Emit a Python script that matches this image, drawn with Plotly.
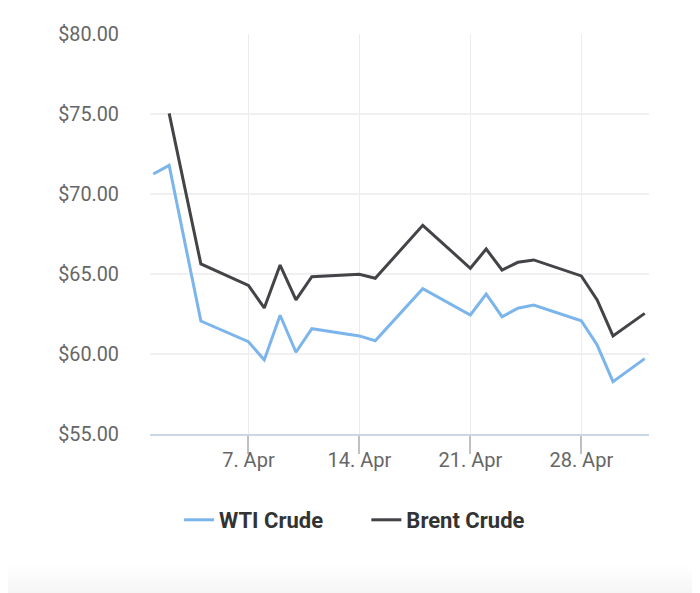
import plotly.graph_objects as go

wti_dates = ["2025-04-01", "2025-04-02", "2025-04-04", "2025-04-07", "2025-04-08", "2025-04-09",
             "2025-04-10", "2025-04-11", "2025-04-14", "2025-04-15", "2025-04-18", "2025-04-21",
             "2025-04-22", "2025-04-23", "2025-04-24", "2025-04-25", "2025-04-28", "2025-04-29",
             "2025-04-30", "2025-05-02"]
wti_values = [71.25, 71.79, 62.06, 60.77, 59.63, 62.42, 60.11, 61.58, 61.13, 60.83, 64.08, 62.44,
              63.75, 62.33, 62.86, 63.06, 62.08, 60.56, 58.27, 59.71]

brent_dates = ["2025-04-02", "2025-04-04", "2025-04-07", "2025-04-08", "2025-04-09",
               "2025-04-10", "2025-04-11", "2025-04-14", "2025-04-15", "2025-04-18", "2025-04-21",
               "2025-04-22", "2025-04-23", "2025-04-24", "2025-04-25", "2025-04-28", "2025-04-29",
               "2025-04-30", "2025-05-02"]
brent_values = [75.04, 65.63, 64.29, 62.88, 65.56, 63.38, 64.83, 64.98, 64.73, 68.04, 65.36,
                66.56, 65.25, 65.73, 65.88, 64.88, 63.38, 61.13, 62.54]

x_tick_vals = ["2025-04-07", "2025-04-14", "2025-04-21", "2025-04-28"]
x_tick_text = ["7. Apr", "14. Apr", "21. Apr", "28. Apr"]
y_tick_vals = [55, 60, 65, 70, 75, 80]
y_tick_text = ["$55.00", "$60.00", "$65.00", "$70.00", "$75.00", "$80.00"]

fig = go.Figure()
fig.add_trace(go.Scatter(x=wti_dates, y=wti_values, mode="lines",
                         name="WTI Crude" + "\u00a0" * 7,
                         line=dict(color="#7cb5ec", width=3)))
fig.add_trace(go.Scatter(x=brent_dates, y=brent_values, mode="lines", name="Brent Crude",
                         line=dict(color="#434348", width=3)))

# very faint shadow at the bottom of the card
n = 10
for i in range(n):
    y0 = -0.33 - (i / n) * 0.07
    fig.add_shape(type="rect", xref="paper", yref="paper",
                  x0=-0.3, x1=1.2, y0=-0.5, y1=y0,
                  fillcolor="rgba(0,0,0,0.004)", line=dict(width=0), layer="below")

fig.update_layout(
    width=700, height=593,
    margin=dict(l=142, r=59, t=26, b=167),
    paper_bgcolor="white", plot_bgcolor="white",
    font=dict(family="Roboto", color="#666666", size=19),
    showlegend=True,
    legend=dict(orientation="h", x=0.41, xanchor="center", y=-0.215, yanchor="middle",
                font=dict(family="Roboto", size=22, color="#333333", weight="bold"),
                itemwidth=30, traceorder="normal"),
    hovermode=False,
)
fig.update_xaxes(
    type="date",
    range=["2025-03-31 19:00", "2025-05-02 06:30"],
    tickmode="array", tickvals=x_tick_vals, ticktext=x_tick_text,
    showgrid=True, gridcolor="#ececec", gridwidth=1,
    showline=True, linecolor="#ccd6eb", linewidth=1.5,
    ticks="outside", ticklen=18, tickcolor="#c0c0c0", tickwidth=1.5,
    ticklabelstandoff=-11,
    tickfont=dict(size=20, color="#666666"),
    zeroline=False, fixedrange=True,
)
fig.update_yaxes(
    range=[55, 80],
    tickmode="array", tickvals=y_tick_vals, ticktext=y_tick_text,
    showgrid=True, gridcolor="#f0f0f0", gridwidth=1.5,
    showline=False, ticks="", ticklabelstandoff=30,
    tickfont=dict(size=19.8, color="#666666"),
    zeroline=False, fixedrange=True,
)

fig.write_html("out.html")
